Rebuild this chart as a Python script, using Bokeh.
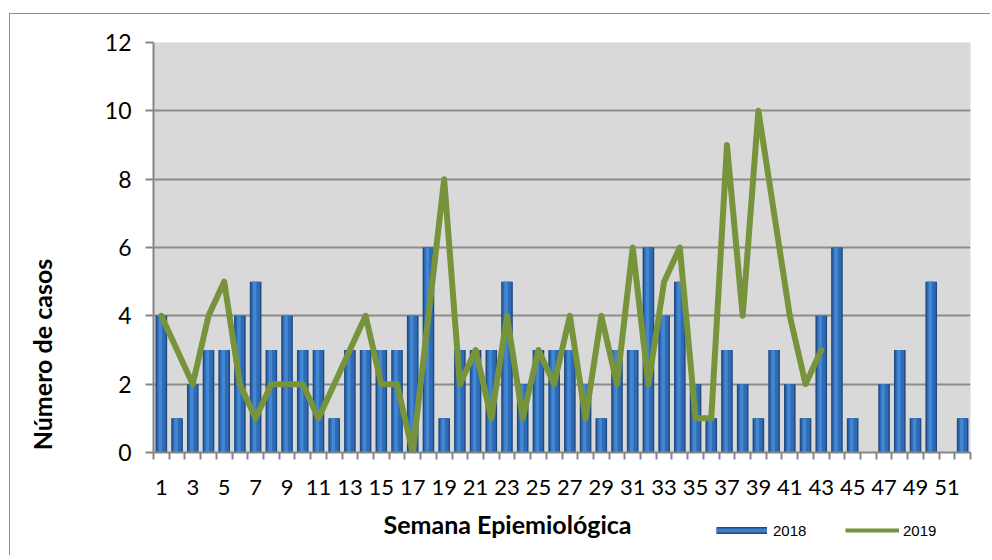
from bokeh.plotting import figure
from bokeh.layouts import column, row
from bokeh.models import Range1d, FixedTicker, Label, Legend, LegendItem, ColumnDataSource
from bokeh.transform import dodge
from bokeh.embed import file_html
from bokeh.resources import INLINE

weeks_2018 = list(range(1, 53))
cases_2018 = [4, 1, 2, 3, 3, 4, 5, 3, 4, 3,
              3, 1, 3, 3, 3, 3, 4, 6, 1, 3,
              3, 3, 5, 2, 3, 3, 3, 2, 1, 3,
              3, 6, 4, 5, 2, 1, 3, 2, 1, 3,
              2, 1, 4, 6, 1, 0, 2, 3, 1, 5,
              0, 1]
weeks_2019 = list(range(1, 44))
cases_2019 = [4, 3, 2, 4, 5, 2, 1, 2, 2, 2,
              1, 2, 3, 4, 2, 2, 0, 4, 8, 2,
              3, 1, 4, 1, 3, 2, 4, 1, 4, 2,
              6, 2, 5, 6, 1, 1, 9, 4, 10, 7,
              4, 2, 3]
y_ticks = [0, 2, 4, 6, 8, 10, 12]
x_label_ticks = list(range(1, 53, 2))
x_boundaries = [w - 0.5 for w in range(1, 54)]
series_names = ["2018", "2019"]
x_title = "Semana Epiemiológica"
y_title = "Número de casos"

BAR_DARK, BAR_MID, BAR_LIGHT = "#1F4A80", "#2E6BB5", "#4486D2"
LINE_COLOR = "#77933C"

src18 = ColumnDataSource(dict(x=weeks_2018, y=cases_2018))
src19 = ColumnDataSource(dict(x=weeks_2019, y=cases_2019))


def blank(width, height):
    # helper panel: no axes, the frame fills the whole canvas; its ranges keep
    # every data mark out of view (used only for titles and legend swatches)
    f = figure(width=width, height=height, output_backend="svg", toolbar_location=None,
               x_range=Range1d(-2, -1), y_range=Range1d(-2, -1),
               min_border=0, min_border_left=0, min_border_right=0,
               min_border_top=0, min_border_bottom=0)
    f.axis.visible = False
    f.grid.visible = False
    f.outline_line_color = None
    f.background_fill_color = "white"
    f.border_fill_color = "white"
    return f


# ---- main chart ----
p = figure(width=920, height=496, x_range=Range1d(0.5, 52.5), y_range=Range1d(0, 12),
           output_backend="svg", toolbar_location=None,
           min_border_left=83, min_border_right=20, min_border_top=28, min_border_bottom=58)
p.background_fill_color = "#D9D9D9"
p.border_fill_color = "white"
p.outline_line_color = None
p.xgrid.visible = False

p.yaxis.ticker = FixedTicker(ticks=y_ticks)
p.ygrid.grid_line_color = "#8C8C8C"
p.ygrid.grid_line_width = 2
p.yaxis.axis_line_color = "#868686"
p.yaxis.axis_line_width = 2
p.yaxis.major_tick_line_color = "#868686"
p.yaxis.major_tick_line_width = 2
p.yaxis.major_tick_out = 8
p.yaxis.major_tick_in = 0
p.yaxis.minor_tick_line_color = None
p.yaxis.major_label_standoff = 14
p.yaxis.major_label_text_font = "Lato"
p.yaxis.major_label_text_font_size = "23px"
p.yaxis.major_label_text_color = "black"

p.xaxis.ticker = FixedTicker(ticks=x_label_ticks, minor_ticks=x_boundaries)
p.xaxis.axis_line_color = "#868686"
p.xaxis.axis_line_width = 2
p.xaxis.major_tick_out = 0
p.xaxis.major_tick_in = 0
p.xaxis.minor_tick_out = 7
p.xaxis.minor_tick_in = 0
p.xaxis.minor_tick_line_color = "#868686"
p.xaxis.minor_tick_line_width = 2
p.xaxis.major_label_standoff = 20
p.xaxis.major_label_text_font = "Lato"
p.xaxis.major_label_text_font_size = "22px"
p.xaxis.major_label_text_color = "black"

# bars (layered to imitate the cylinder shading)
p.vbar(x="x", top="y", width=0.74, source=src18, fill_color=BAR_DARK, line_color=None)
p.vbar(x="x", top="y", width=0.56, source=src18, fill_color=BAR_MID, line_color=None)
p.vbar(x=dodge("x", -0.06, range=p.x_range), top="y", width=0.22, source=src18,
       fill_color=BAR_LIGHT, line_color=None)

p.line(x="x", y="y", source=src19, line_color=LINE_COLOR, line_width=6,
       line_join="round", line_cap="round")

# ---- y-axis title panel ----
p_left = blank(60, 496)
p_left.add_layout(Label(x=31, y=98, x_units="screen", y_units="screen", text=y_title,
                        angle=1.5707963, text_font="Lato", text_font_style="bold",
                        text_font_size="25px", text_color="black",
                        text_align="center", text_baseline="middle"))

# ---- x-axis title + legend panel ----
p_bot = blank(980, 45)
p_bot.add_layout(Label(x=497, y=32, x_units="screen", y_units="screen", text=x_title,
                       text_font="Lato", text_font_style="bold", text_font_size="25px",
                       text_color="black", text_align="center", text_baseline="middle"))
sw_bar_dark = p_bot.line(x="x", y="y", source=src18, line_color=BAR_DARK, line_width=7,
                         line_cap="butt")
sw_bar_mid = p_bot.line(x="x", y="y", source=src18, line_color="#3F7DC8", line_width=4,
                        line_cap="butt")
sw_line = p_bot.line(x="x", y="y", source=src19, line_color=LINE_COLOR, line_width=4,
                     line_cap="butt")

common = dict(orientation="horizontal", padding=0, margin=0, border_line_color=None,
              background_fill_alpha=0, label_text_font="Liberation Sans",
              label_text_font_size="15px", label_text_color="black",
              label_height=18, glyph_height=18)
leg1 = Legend(items=[LegendItem(label=series_names[0], renderers=[sw_bar_dark, sw_bar_mid])],
              location=(706, 16), glyph_width=51, label_standoff=6, **common)
leg2 = Legend(items=[LegendItem(label=series_names[1], renderers=[sw_line])],
              location=(835, 16), glyph_width=54, label_standoff=4, **common)
p_bot.add_layout(leg1)
p_bot.add_layout(leg2)

layout = column(row(p_left, p, spacing=0), p_bot, spacing=0)
layout.styles = {"margin-left": "9px", "margin-top": "13px",
                 "border-left": "1px solid #8c8c8c", "border-top": "1px solid #8c8c8c"}

open("out.html", "w").write(file_html(layout, INLINE))
